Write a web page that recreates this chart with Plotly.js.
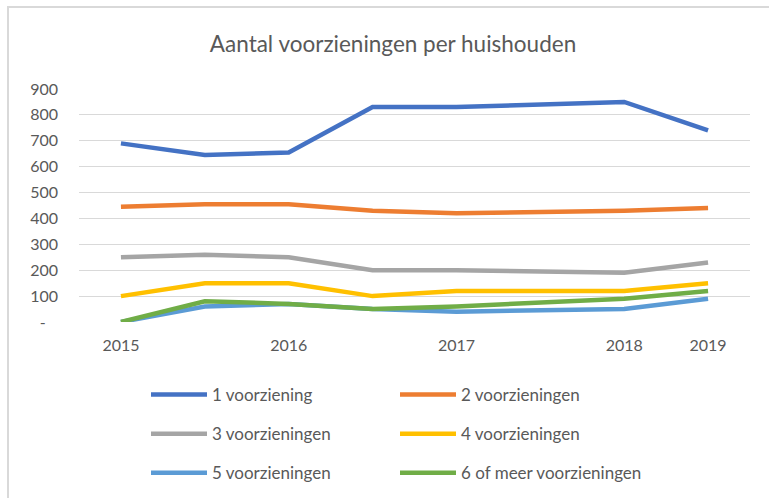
<!DOCTYPE html>
<html>
<head>
<meta charset="utf-8">
<script src="https://cdn.plot.ly/plotly-3.0.1.min.js"></script>
<style>
  html, body { margin: 0; padding: 0; background: #ffffff; }
  #wrap { position: relative; width: 769px; height: 498px; overflow: hidden; }
  #frame { position: absolute; left: 7px; top: 6px; width: 800px; height: 600px;
           border-left: 2px solid #d9d9d9; border-top: 2px solid #d9d9d9; pointer-events: none; }
  #chart { position: absolute; left: 0; top: 0; width: 769px; height: 498px; }
</style>
</head>
<body>
<div id="wrap">
  <div id="chart"></div>
  <div id="frame"></div>
</div>
<script>
// Periods (category axis); the sixth period has no data
const periods = ['2015', '2015b', '2016', '2016b', '2017', '2017b', '2018', '2019'];
const periodLabels = ['2015', '', '2016', '', '2017', '', '2018', '2019'];

const seriesNames = ['1 voorziening', '2 voorzieningen', '3 voorzieningen',
                     '4 voorzieningen', '5 voorzieningen', '6 of meer voorzieningen'];

const v1 = [690, 645, 655, 830, 830, null, 850, 740];
const v2 = [445, 455, 455, 430, 420, null, 430, 440];
const v3 = [250, 260, 250, 200, 200, null, 190, 230];
const v4 = [100, 150, 150, 100, 120, null, 120, 150];
const v5 = [0, 60, 70, 50, 40, null, 50, 90];
const v6 = [0, 80, 70, 50, 60, null, 90, 120];

const yTickVals = [0, 100, 200, 300, 400, 500, 600, 700, 800, 900];
const yTickText = ['-\u00a0\u00a0\u00a0', '100', '200', '300', '400', '500', '600', '700', '800', '900'];

const colors = ['#4472C4', '#ED7D31', '#A5A5A5', '#FFC000', '#5B9BD5', '#70AD47'];
const allValues = [v1, v2, v3, v4, v5, v6];

const FONT = 'Lato, "Open Sans", sans-serif';
const TXT = '#595959';

const traces = allValues.map((vals, i) => ({
  type: 'scatter',
  mode: 'lines',
  x: periods,
  y: vals,
  name: seriesNames[i],
  connectgaps: true,
  line: { color: colors[i], width: 4.5 },
  legend: (i % 2 === 0) ? 'legend' : 'legend2',
  legendgroup: 'g' + i,
  hoverinfo: 'x+y+name'
}));

const legendCommon = {
  orientation: 'v',
  xref: 'container', yref: 'container',
  yanchor: 'top',
  y: 1 - 377 / 498,
  font: { family: FONT, size: 17, color: TXT },
  bgcolor: 'rgba(0,0,0,0)',
  tracegroupgap: 14,
  itemwidth: 56,
  traceorder: 'grouped'
};

const layout = {
  width: 769, height: 498,
  paper_bgcolor: '#ffffff',
  plot_bgcolor: '#ffffff',
  margin: { l: 79, r: 19, t: 89, b: 176, pad: 0, autoexpand: false },
  font: { family: FONT, color: TXT },
  title: {
    text: 'Aantal voorzieningen per huishouden',
    font: { family: FONT, size: 22.5, color: TXT },
    xref: 'container', yref: 'container',
    x: 393 / 769, xanchor: 'center',
    y: 1 - 44 / 498, yanchor: 'middle'
  },
  xaxis: {
    type: 'category',
    categoryorder: 'array',
    categoryarray: periods,
    tickvals: periods,
    ticktext: periodLabels,
    tickangle: 0,
    range: [-0.5, 7.5],
    showgrid: false,
    zeroline: false,
    showline: false,
    ticks: '',
    ticklabelstandoff: 12,
    tickfont: { family: FONT, size: 16, color: TXT },
    fixedrange: true
  },
  yaxis: {
    range: [0, 900],
    tickvals: yTickVals,
    ticktext: yTickText,
    showgrid: true,
    gridcolor: '#d9d9d9',
    gridwidth: 1.3,
    zeroline: false,
    showline: false,
    ticks: '',
    ticklabelstandoff: 20,
    tickfont: { family: FONT, size: 16, color: TXT },
    fixedrange: true
  },
  legend: Object.assign({}, legendCommon, { x: 146 / 769, xanchor: 'left' }),
  legend2: Object.assign({}, legendCommon, { x: 395 / 769, xanchor: 'left' }),
  showlegend: true
};

Plotly.newPlot('chart', traces, layout, { displayModeBar: false, staticPlot: false });
</script>
</body>
</html>
